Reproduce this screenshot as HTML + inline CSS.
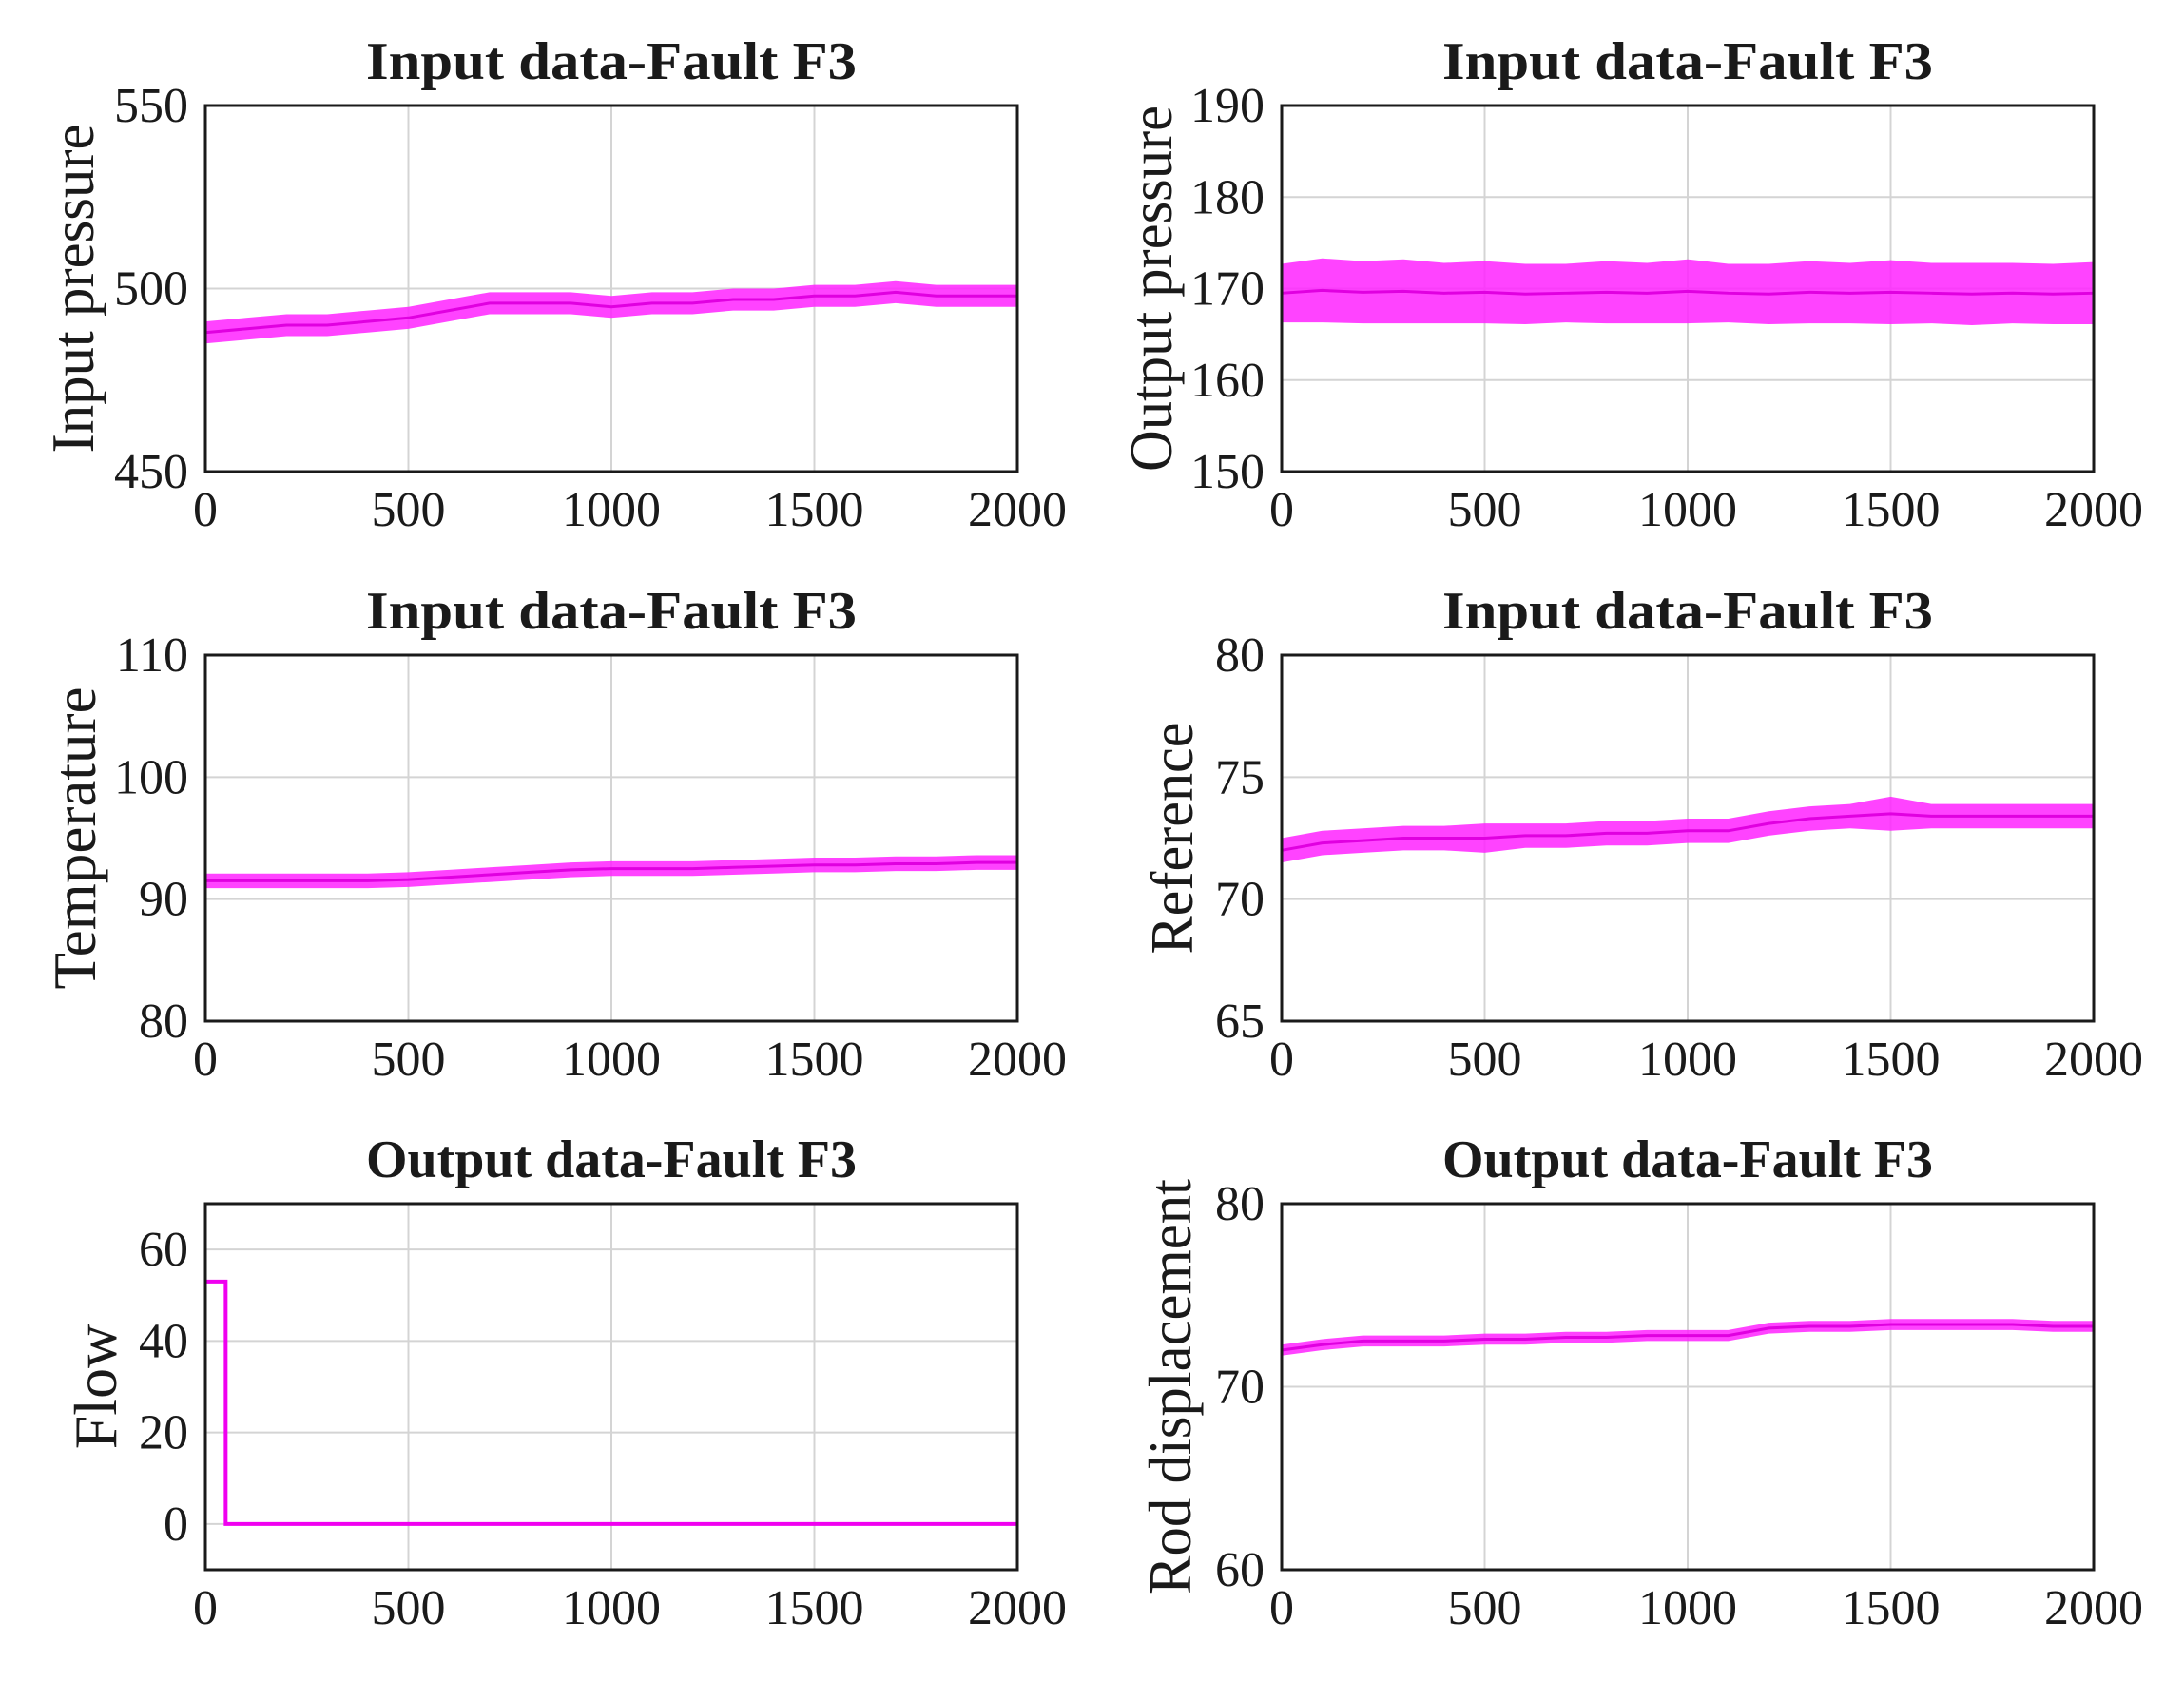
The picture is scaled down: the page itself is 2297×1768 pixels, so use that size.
<!DOCTYPE html>
<html><head><meta charset="utf-8"><style>
html,body{margin:0;padding:0;background:#fff}
svg{display:block}
text{font-family:"Liberation Serif",serif;fill:#1a1a1a}
</style></head><body>
<svg id="fig" width="2297" height="1768" viewBox="0 0 2297 1768" xmlns="http://www.w3.org/2000/svg"></svg>
<script>
// Shared x data
const xSamples = [0,100,200,300,400,500,600,700,800,900,1000,1100,1200,1300,1400,1500,1600,1700,1800,1900,2000];
const xTicks = [0,500,1000,1500,2000];

// Panel 1: Input pressure
const p1Mean = [488,489,490,490,491,492,494,496,496,496,495,496,496,497,497,498,498,499,498,498,498];
const p1Spread = [3,3,3,3,3,3,3,3,3,3,3,3,3,3,3,3,3,3,3,3,3];
const p1YTicks = [450,500,550];
// Panel 2: Output pressure
const p2Mean = [169.5,169.8,169.6,169.7,169.5,169.6,169.4,169.5,169.6,169.5,169.7,169.5,169.4,169.6,169.5,169.6,169.5,169.4,169.5,169.4,169.5];
const p2Spread = [3.2,3.5,3.4,3.5,3.3,3.4,3.3,3.2,3.4,3.3,3.5,3.2,3.3,3.4,3.3,3.5,3.3,3.4,3.3,3.3,3.4];
const p2YTicks = [150,160,170,180,190];
// Panel 3: Temperature
const p3Mean = [91.5,91.5,91.5,91.5,91.5,91.6,91.8,92,92.2,92.4,92.5,92.5,92.5,92.6,92.7,92.8,92.8,92.9,92.9,93,93];
const p3Spread = [0.6,0.6,0.6,0.6,0.6,0.6,0.6,0.6,0.6,0.6,0.6,0.6,0.6,0.6,0.6,0.6,0.6,0.6,0.6,0.6,0.6];
const p3YTicks = [80,90,100,110];
// Panel 4: Reference
const p4Mean = [72,72.3,72.4,72.5,72.5,72.5,72.6,72.6,72.7,72.7,72.8,72.8,73.1,73.3,73.4,73.5,73.4,73.4,73.4,73.4,73.4];
const p4Spread = [0.5,0.5,0.5,0.5,0.5,0.6,0.5,0.5,0.5,0.5,0.5,0.5,0.5,0.5,0.5,0.7,0.5,0.5,0.5,0.5,0.5];
const p4YTicks = [65,70,75,80];
// Panel 5: Flow (step)
const p5X = [0,50,50,2000];
const p5Y = [53,53,0,0];
const p5YTicks = [0,20,40,60];
// Panel 6: Rod displacement
const p6Mean = [72,72.3,72.5,72.5,72.5,72.6,72.6,72.7,72.7,72.8,72.8,72.8,73.2,73.3,73.3,73.4,73.4,73.4,73.4,73.3,73.3];
const p6Spread = [0.3,0.3,0.3,0.3,0.3,0.3,0.3,0.3,0.3,0.3,0.3,0.3,0.3,0.3,0.3,0.3,0.3,0.3,0.3,0.3,0.3];
const p6YTicks = [60,70,80];

const NS = "http://www.w3.org/2000/svg";
const svg = document.getElementById('fig');
function mk(tag, attrs, parent){
  const e = document.createElementNS(NS, tag);
  for (const k in attrs) e.setAttribute(k, attrs[k]);
  (parent||svg).appendChild(e);
  return e;
}

const panels = [
  {name:'input-pressure', L:216, T:111, title:'Input data-Fault F3', ylabel:'Input pressure', yMin:450, yMax:550, yTicks:p1YTicks, mean:p1Mean, spread:p1Spread, labX:78, labLen:346},
  {name:'output-pressure', L:1348, T:111, title:'Input data-Fault F3', ylabel:'Output pressure', yMin:150, yMax:190, yTicks:p2YTicks, mean:p2Mean, spread:p2Spread, labX:1212, labLen:385},
  {name:'temperature', L:216, T:689, title:'Input data-Fault F3', ylabel:'Temperature', yMin:80, yMax:110, yTicks:p3YTicks, mean:p3Mean, spread:p3Spread, labX:80, labLen:318},
  {name:'reference', L:1348, T:689, title:'Input data-Fault F3', ylabel:'Reference', yMin:65, yMax:80, yTicks:p4YTicks, mean:p4Mean, spread:p4Spread, labX:1234, labLen:244},
  {name:'flow', L:216, T:1266, title:'Output data-Fault F3', ylabel:'Flow', yMin:-10, yMax:70, yTicks:p5YTicks, stepX:p5X, stepY:p5Y, labX:102, labLen:0},
  {name:'rod-displacement', L:1348, T:1266, title:'Output data-Fault F3', ylabel:'Rod displacement', yMin:60, yMax:80, yTicks:p6YTicks, mean:p6Mean, spread:p6Spread, labX:1232, labLen:437}
];
const W = 854, H = 385;

panels.forEach(p => {
  const g = mk('g', {});
  
  
  const xs = v => p.L + (v - 0) / 2000 * W;
  const ys = v => p.T + H - (v - p.yMin) / (p.yMax - p.yMin) * H;

  xTicks.forEach(t => {
    const l = mk('line', {x1:xs(t), x2:xs(t), y1:p.T, y2:p.T+H, stroke:'#d4d4d4', 'stroke-width':2}, g);
    
    
  });
  p.yTicks.forEach(t => {
    const l = mk('line', {x1:p.L, x2:p.L+W, y1:ys(t), y2:ys(t), stroke:'#d4d4d4', 'stroke-width':2}, g);
    
    
  });

  if (p.mean) {
    let up = [], lo = [];
    for (let i = 0; i < xSamples.length; i++) {
      up.push(xs(xSamples[i]) + ',' + ys(p.mean[i] + p.spread[i]));
      lo.unshift(xs(xSamples[i]) + ',' + ys(p.mean[i] - p.spread[i]));
    }
    const band = mk('polygon', {points: up.concat(lo).join(' '), fill:'#ff22ff', 'fill-opacity':0.85}, g);
    
    
    const pts = xSamples.map((x, i) => xs(x) + ',' + ys(p.mean[i])).join(' ');
    const line = mk('polyline', {points: pts, fill:'none', stroke:'#e000e0', 'stroke-width':3}, g);
    
    
  } else {
    const pts = p.stepX.map((x, i) => xs(x) + ',' + ys(p.stepY[i])).join(' ');
    const line = mk('polyline', {points: pts, fill:'none', stroke:'#f000f0', 'stroke-width':4}, g);
    
    
  }

  const box = mk('rect', {x:p.L, y:p.T, width:W, height:H, fill:'none', stroke:'#1a1a1a', 'stroke-width':3}, g);
  
  

  xTicks.forEach(t => {
    const tx = mk('text', {x:xs(t), y:p.T+H+57, 'font-size':52, 'text-anchor':'middle'}, g);
    tx.textContent = t;
    
    
  });
  p.yTicks.forEach(t => {
    const tx = mk('text', {x:p.L-18, y:ys(t)+17, 'font-size':52, 'text-anchor':'end'}, g);
    tx.textContent = t;
    
    
  });

  const ti = mk('text', {x:p.L+W/2, y:p.T-28, 'font-size':56, 'font-weight':'bold', 'text-anchor':'middle', textLength:516, lengthAdjust:'spacingAndGlyphs'}, g);
  ti.textContent = p.title;
  
  

  const cy = p.T + H/2;
  const attrs = {x:0, y:0, 'font-size':64, 'text-anchor':'middle', transform:'translate(' + (p.labX+20) + ',' + cy + ') rotate(-90)'};
  if (p.labLen) { attrs.textLength = p.labLen; attrs.lengthAdjust = 'spacingAndGlyphs'; }
  const yl = mk('text', attrs, g);
  yl.textContent = p.ylabel;
  
  
});
</script>
</body></html>
